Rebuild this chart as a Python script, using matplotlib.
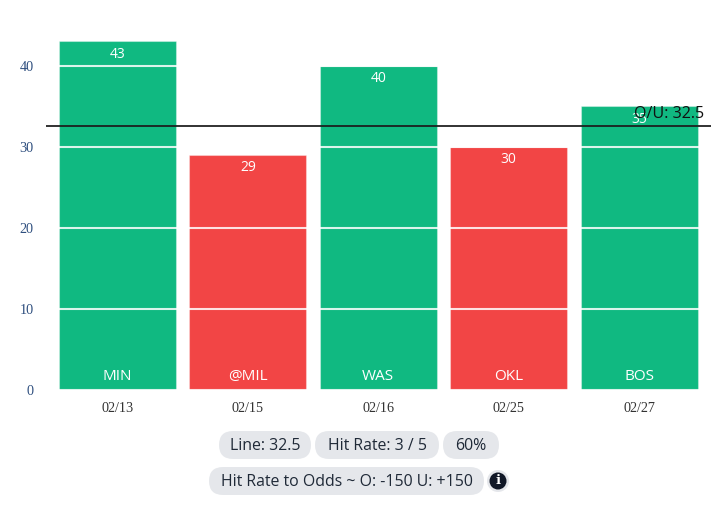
import matplotlib.pyplot as plt
from matplotlib.patches import Circle, FancyBboxPatch

teams = ["MIN", "@MIL", "WAS", "OKL", "BOS"]
dates = ["02/13", "02/15", "02/16", "02/25", "02/27"]
points = [43, 29, 40, 30, 35]
line_value = 32.5
y_ticks = [0, 10, 20, 30, 40]

GREEN = "#10b981"
RED = "#f24545"
PILL = "#e5e7eb"
PILL_TEXT = "#1f2937"
SANS = "Open Sans"
SERIF = "Liberation Serif"

# (left, top, width, height, text) in screen pixels
pills = [
    (219, 431, 92, 28, "Line: 32.5"),
    (315, 431, 124, 28, "Hit Rate: 3 / 5"),
    (443, 431, 56, 28, "60%"),
    (209, 467, 275, 28, "Hit Rate to Odds ~ O: -150 U: +150"),
]

W, H = 721, 508
PX_PER_POINT = 8.1
fig = plt.figure(figsize=(W / 100, H / 100), dpi=100)

# axes span the horizontal extent of the O/U line
ax = fig.add_axes([46 / W, (H - 389.7) / H, 665 / W, 356 / H])
ax.set_xlim(-0.548, 4.551)
ax.set_ylim(0, 356 / PX_PER_POINT)

positions = list(range(len(teams)))
colors = [GREEN if p > line_value else RED for p in points]
ax.bar(positions, points, width=0.897, color=colors,
       edgecolor=(1, 1, 1, 0.35), linewidth=0.8, zorder=2)

# white grid is only visible across the bars
ax.set_yticks(y_ticks)
ax.yaxis.grid(True, color="white", linewidth=1.5, alpha=0.85, zorder=3)
ax.set_axisbelow(False)
ax.xaxis.grid(False)

ax.axhline(line_value, color="#1c1c1c", linewidth=1.4, alpha=0.9, zorder=4)
ax.annotate(
    f"O/U: {line_value}", xy=(1, line_value), xycoords=("axes fraction", "data"),
    xytext=(-7, 4), textcoords="offset pixels", ha="right", va="bottom",
    fontsize=11.6, family=SANS, color="#111111", zorder=6,
)

for x, value, team in zip(positions, points, teams):
    ax.annotate(
        str(value), xy=(x, value), xytext=(0, -13), textcoords="offset pixels",
        ha="center", va="center", color="white", fontsize=10, family=SANS, zorder=5,
    )
    ax.annotate(
        team, xy=(x, 0), xytext=(0, 13), textcoords="offset pixels",
        ha="center", va="center", color="white", fontsize=11, family=SANS, zorder=5,
    )

ax.set_xticks(positions)
ax.set_xticklabels(dates, family=SERIF, fontsize=10.2, color="#333333")
ax.set_yticklabels([str(t) for t in y_ticks], family=SERIF, fontsize=10.2, color="#2f4f7f")
ax.tick_params(length=0)
ax.tick_params(axis="x", pad=9)
ax.tick_params(axis="y", pad=9)
for spine in ax.spines.values():
    spine.set_visible(False)

# overlay in pixel coordinates for the pills under the chart
overlay = fig.add_axes([0, 0, 1, 1], facecolor="none")
overlay.set_xlim(0, W)
overlay.set_ylim(H, 0)
overlay.axis("off")

for left, top, width, height, label in pills:
    radius = height / 2
    overlay.add_patch(FancyBboxPatch(
        (left + radius, top + radius), width - height, 0,
        boxstyle=f"round,pad={radius - 0.01},rounding_size={radius}",
        facecolor=PILL, edgecolor="none",
    ))
    overlay.text(left + width / 2, top + height / 2 + 1, label, ha="center", va="center",
                 fontsize=11.4, family=SANS, color=PILL_TEXT)

overlay.add_patch(Circle((498, 481), 11, facecolor=PILL, edgecolor="none"))
overlay.add_patch(Circle((498, 481), 8.5, facecolor="#111827", edgecolor="none"))
overlay.text(498, 481, "i", ha="center", va="center", color="white",
             fontsize=9.5, family="DejaVu Serif", fontweight="bold")

fig.savefig("out.png", dpi=100, facecolor="white")
